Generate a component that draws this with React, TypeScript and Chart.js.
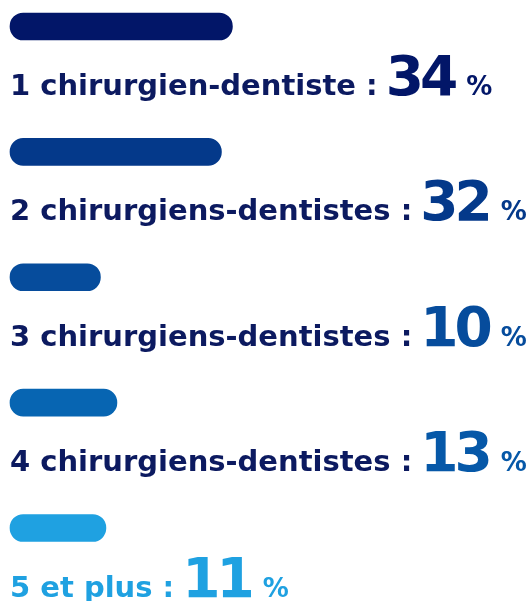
import React, { useEffect, useRef } from "react";
import { Chart, registerables } from "chart.js";

Chart.register(...registerables);

const categories = [
  "1 chirurgien-dentiste :",
  "2 chirurgiens-dentistes :",
  "3 chirurgiens-dentistes :",
  "4 chirurgiens-dentistes :",
  "5 et plus :",
];
const values = [34, 32, 10, 13, 11];
const barColors = ["#021668", "#04398a", "#064c9c", "#0765b2", "#1fa1e1"];
const labelColors = ["#0c1a60", "#0c1a60", "#0c1a60", "#0c1a60", "#1fa1e1"];
const numberColors = ["#021668", "#04398a", "#064c9c", "#0658a8", "#1fa1e1"];

const FONT = '"DejaVu Sans", sans-serif';

const labelPlugin = {
  id: "rowLabels",
  afterDatasetsDraw(chart: any) {
    const ctx = chart.ctx;
    const meta = chart.getDatasetMeta(0);
    ctx.save();
    ctx.textBaseline = "alphabetic";
    ctx.textAlign = "left";
    meta.data.forEach((bar: any, i: number) => {
      const baseline = bar.y + 68.6;
      let x = 10;
      ctx.letterSpacing = "0px";
      ctx.font = `bold 29px ${FONT}`;
      ctx.fillStyle = labelColors[i];
      ctx.fillText(categories[i], x, baseline);
      x += ctx.measureText(categories[i]).width + 8;
      ctx.font = `bold 55px ${FONT}`;
      ctx.letterSpacing = "-4px";
      ctx.fillStyle = numberColors[i];
      const num = String(values[i]);
      ctx.fillText(num, x, baseline);
      x += ctx.measureText(num).width + 12;
      ctx.letterSpacing = "0px";
      ctx.font = `bold 26px ${FONT}`;
      ctx.fillText("%", x, baseline);
    });
    ctx.restore();
  },
};

export default function App() {
  const ref = useRef<HTMLCanvasElement | null>(null);
  useEffect(() => {
    if (!ref.current) return;
    const chart = new Chart(ref.current, {
      type: "bar",
      data: {
        labels: categories,
        datasets: [
          {
            data: values,
            backgroundColor: barColors,
            base: -6.44,
            barThickness: 27,
            borderRadius: 13.5,
            borderSkipped: false,
            clip: false,
          } as any,
        ],
      },
      options: {
        animation: false,
        responsive: false,
        indexAxis: "y",
        layout: { padding: { left: 10, right: 0, top: 26.5, bottom: 73 } },
        plugins: { legend: { display: false }, tooltip: { enabled: false } },
        scales: {
          x: { type: "linear", display: false, min: -6.44, max: 87.92 },
          y: { type: "category", display: false, offset: false },
        },
      },
      plugins: [labelPlugin],
    });
    return () => chart.destroy();
  }, []);
  return (
    <div style={{ position: "fixed", left: 0, top: 0, width: 529, height: 601, background: "#fff" }}>
      <canvas ref={ref} width={529} height={601} style={{ display: "block" }} />
    </div>
  );
}
